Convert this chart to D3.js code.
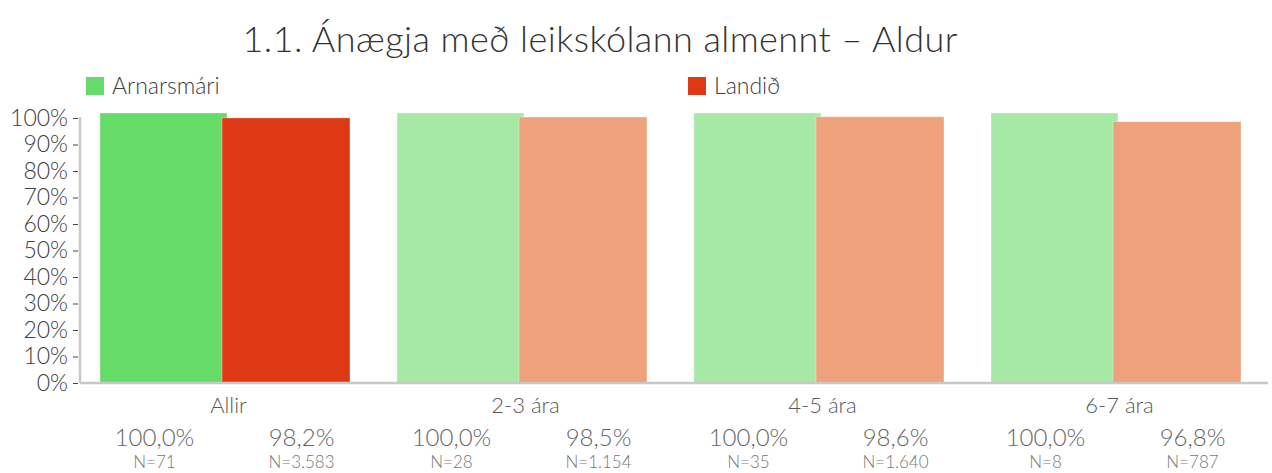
<!DOCTYPE html>
<html>
<head>
<meta charset="utf-8">
<script src="https://cdn.jsdelivr.net/npm/d3@7"></script>
<style>
  body { margin: 0; background: #fff; }
  svg { font-family: Lato, "Open Sans", sans-serif; font-weight: 300; }
</style>
</head>
<body>
<svg width="1272" height="473"></svg>
<script>
// data
const categories = ["Allir", "2-3 ára", "4-5 ára", "6-7 ára"];
const series = ["Arnarsmári", "Landið"];
const arnarsmari = [1.0, 1.0, 1.0, 1.0];
const landid = [0.982, 0.985, 0.986, 0.968];
const nArnarsmari = ["N=71", "N=28", "N=35", "N=8"];
const nLandid = ["N=3.583", "N=1.154", "N=1.640", "N=787"];
const yTicks = [0, 0.1, 0.2, 0.3, 0.4, 0.5, 0.6, 0.7, 0.8, 0.9, 1.0];

const strongColors = ["#66db6a", "#dd3a13"];
const lightColors = ["#a5e9a5", "#eea17b"];

const svg = d3.select("svg");
const left = 80, right = 1268, bottom = 383;

// scales
const x = d3.scaleBand().domain(categories).range([left, right]);
const xSub = d3.scaleBand().domain(series).range([20, 270]);
const y = d3.scaleLinear().domain([0, 1]).range([bottom, 118]);
const yBar = d3.scaleLinear().domain([0, 1]).range([bottom, 113]);
const fmt = v => d3.format(".1f")(v * 100).replace(".", ",") + "%";

// title
svg.append("text")
  .attr("x", 600)
  .attr("y", 52)
  .attr("text-anchor", "middle")
  .attr("font-size", 36)
  .attr("fill", "#333")
  .attr("textLength", 715)
  .text("1.1. Ánægja með leikskólann almennt – Aldur");

// legend
const legend = [{ name: series[0], x: 86 }, { name: series[1], x: 688 }];
legend.forEach((d, i) => {
  svg.append("rect")
    .attr("x", d.x).attr("y", 77)
    .attr("width", 18).attr("height", 18)
    .attr("fill", strongColors[i]);
  svg.append("text")
    .attr("x", d.x + 26).attr("y", 94)
    .attr("font-size", 23)
    .attr("fill", "#404040")
    .text(d.name);
});

// bars
const rows = categories.map((c, i) => ({
  cat: c, i: i, values: [arnarsmari[i], landid[i]]
}));

const groups = svg.selectAll("g.grp")
  .data(rows)
  .join("g")
  .attr("class", "grp")
  .attr("transform", d => `translate(${x(d.cat)},0)`);

groups.selectAll("rect")
  .data(d => d.values.map((v, j) => ({ v, j, i: d.i })))
  .join("rect")
  .attr("x", d => xSub(series[d.j]) - (d.j === 1 ? 3 : 0))
  .attr("width", d => xSub.bandwidth() + (d.j === 1 ? 3 : 2))
  .attr("y", d => yBar(d.v))
  .attr("height", d => bottom - yBar(d.v))
  .attr("fill", d => (d.i === 0 ? strongColors : lightColors)[d.j])
  .attr("stroke", "rgba(255,255,255,0.35)")
  .attr("stroke-width", 1);

// axes lines
svg.append("line")
  .attr("x1", left).attr("x2", left)
  .attr("y1", 117).attr("y2", bottom)
  .attr("stroke", "#c8c8c8").attr("stroke-width", 2.5);
svg.append("line")
  .attr("x1", left).attr("x2", right)
  .attr("y1", bottom).attr("y2", bottom)
  .attr("stroke", "#c8c8c8").attr("stroke-width", 2.5);

// y ticks
const yAxis = svg.append("g")
  .attr("transform", `translate(${left - 2},0)`)
  .call(d3.axisLeft(y).tickValues(yTicks).tickSize(5).tickPadding(5)
    .tickFormat(d => Math.round(d * 100) + "%"));
yAxis.select(".domain").remove();
yAxis.selectAll("line").attr("stroke", "#444");
yAxis.selectAll("text")
  .attr("font-size", 23)
  .attr("fill", "#404040")
  .attr("font-family", "Lato, sans-serif")
  .attr("font-weight", 300);

// category labels
svg.selectAll("text.cat")
  .data(categories)
  .join("text")
  .attr("class", "cat")
  .attr("x", d => x(d) + x.bandwidth() / 2)
  .attr("y", 413)
  .attr("text-anchor", "middle")
  .attr("font-size", 22)
  .attr("fill", "#595959")
  .text(d => d);

// value and N labels
const offsets = [-74, 73];
rows.forEach(r => {
  const cx = x(r.cat) + x.bandwidth() / 2;
  r.values.forEach((v, j) => {
    svg.append("text")
      .attr("x", cx + offsets[j])
      .attr("y", 446)
      .attr("text-anchor", "middle")
      .attr("font-size", 24)
      .attr("fill", "#666")
      .text(fmt(v));
    svg.append("text")
      .attr("x", cx + offsets[j])
      .attr("y", 468)
      .attr("text-anchor", "middle")
      .attr("font-size", 17)
      .attr("fill", "#777")
      .text(j === 0 ? nArnarsmari[r.i] : nLandid[r.i]);
  });
});
</script>
</body>
</html>
